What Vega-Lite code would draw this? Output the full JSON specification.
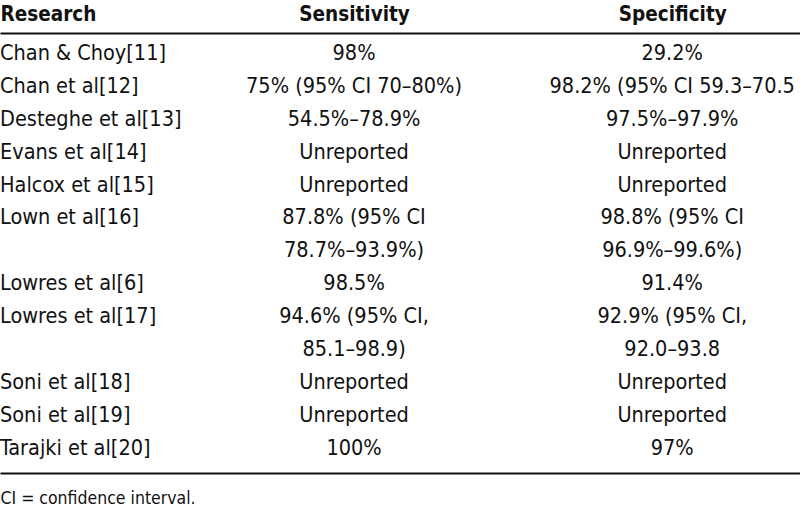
{
  "$schema": "https://vega.github.io/schema/vega-lite/v6.json",
  "width": 800,
  "height": 440,
  "autosize": {"type": "none"},
  "padding": {"left": 0, "top": 33, "right": 0, "bottom": 35},
  "background": "white",
  "config": {
    "view": {"stroke": null},
    "font": "DejaVu Sans Condensed, Liberation Sans, sans-serif"
  },
  "data": {
    "values": [
      {"line": 0, "column": 0, "text": "Chan & Choy[11]"},
      {"line": 0, "column": 1, "text": "98%"},
      {"line": 0, "column": 2, "text": "29.2%"},
      {"line": 1, "column": 0, "text": "Chan et al[12]"},
      {"line": 1, "column": 1, "text": "75% (95% CI 70–80%)"},
      {"line": 1, "column": 2, "text": "98.2% (95% CI 59.3–70.5"},
      {"line": 2, "column": 0, "text": "Desteghe et al[13]"},
      {"line": 2, "column": 1, "text": "54.5%–78.9%"},
      {"line": 2, "column": 2, "text": "97.5%–97.9%"},
      {"line": 3, "column": 0, "text": "Evans et al[14]"},
      {"line": 3, "column": 1, "text": "Unreported"},
      {"line": 3, "column": 2, "text": "Unreported"},
      {"line": 4, "column": 0, "text": "Halcox et al[15]"},
      {"line": 4, "column": 1, "text": "Unreported"},
      {"line": 4, "column": 2, "text": "Unreported"},
      {"line": 5, "column": 0, "text": "Lown et al[16]"},
      {"line": 5, "column": 1, "text": "87.8% (95% CI"},
      {"line": 5, "column": 2, "text": "98.8% (95% CI"},
      {"line": 6, "column": 1, "text": "78.7%–93.9%)"},
      {"line": 6, "column": 2, "text": "96.9%–99.6%)"},
      {"line": 7, "column": 0, "text": "Lowres et al[6]"},
      {"line": 7, "column": 1, "text": "98.5%"},
      {"line": 7, "column": 2, "text": "91.4%"},
      {"line": 8, "column": 0, "text": "Lowres et al[17]"},
      {"line": 8, "column": 1, "text": "94.6% (95% CI,"},
      {"line": 8, "column": 2, "text": "92.9% (95% CI,"},
      {"line": 9, "column": 1, "text": "85.1–98.9)"},
      {"line": 9, "column": 2, "text": "92.0–93.8"},
      {"line": 10, "column": 0, "text": "Soni et al[18]"},
      {"line": 10, "column": 1, "text": "Unreported"},
      {"line": 10, "column": 2, "text": "Unreported"},
      {"line": 11, "column": 0, "text": "Soni et al[19]"},
      {"line": 11, "column": 1, "text": "Unreported"},
      {"line": 11, "column": 2, "text": "Unreported"},
      {"line": 12, "column": 0, "text": "Tarajki et al[20]"},
      {"line": 12, "column": 1, "text": "100%"},
      {"line": 12, "column": 2, "text": "97%"}
    ]
  },
  "encoding": {
    "y": {
      "field": "line",
      "type": "quantitative",
      "scale": {"domain": [-0.64, 12.74], "reverse": true, "nice": false, "zero": false},
      "axis": null
    },
    "text": {"field": "text", "type": "nominal"}
  },
  "layer": [
    {
      "transform": [{"filter": "datum.column === 0"}],
      "mark": {"type": "text", "align": "left", "baseline": "middle", "fontSize": 21.5, "color": "#111"},
      "encoding": {
        "x": {
          "field": "column",
          "type": "quantitative",
          "scale": {"type": "pow", "exponent": 0.925, "domain": [0, 2.414], "nice": false, "zero": false},
          "axis": {
            "orient": "top",
            "title": null,
            "values": [0, 1, 2],
            "labelExpr": "['Research', 'Sensitivity', 'Specificity'][datum.value]",
            "ticks": false,
            "tickSize": 0,
            "domain": true,
            "domainColor": "#111",
            "domainWidth": 2,
            "labelFontSize": 20.5,
            "labelFontWeight": "bold",
            "labelColor": "#111",
            "labelBaseline": "alphabetic",
            "labelPadding": 13,
            "labelAngle": 0,
            "labelFlush": false,
            "labelOverlap": false,
            "labelBound": false,
            "labelAlign": {"condition": {"test": "datum.value === 0", "value": "left"}, "value": "center"},
            "grid": false
          }
        }
      }
    },
    {
      "transform": [{"filter": "datum.column !== 0"}],
      "mark": {"type": "text", "align": "center", "baseline": "middle", "fontSize": 21.5, "color": "#111"},
      "encoding": {
        "x": {
          "field": "column",
          "type": "quantitative",
          "axis": {
            "orient": "bottom",
            "labels": false,
            "ticks": false,
            "tickSize": 0,
            "domain": true,
            "domainColor": "#111",
            "domainWidth": 2,
            "grid": false,
            "title": "CI = confidence interval.",
            "titleFontSize": 17.5,
            "titleFontWeight": "normal",
            "titleColor": "#111",
            "titleAnchor": "start",
            "titleAlign": "left",
            "titleBaseline": "alphabetic",
            "titlePadding": 30
          }
        }
      }
    }
  ],
  "resolve": {"axis": {"x": "independent"}}
}
